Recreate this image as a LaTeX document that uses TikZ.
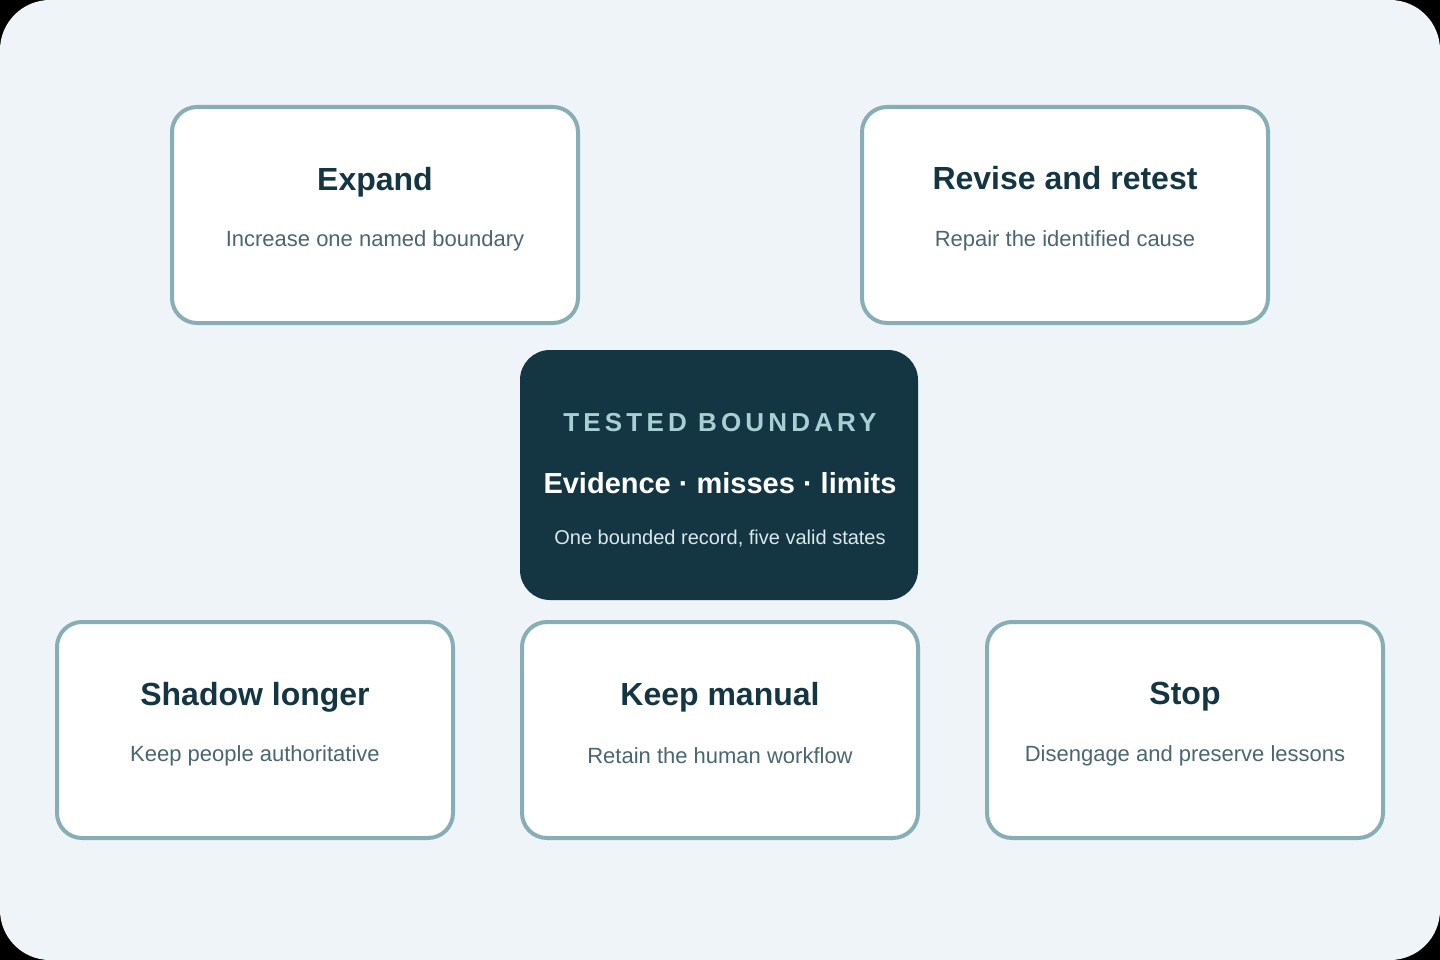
\documentclass[tikz,border=0pt]{standalone}
\usepackage{fontspec}
\setmainfont{Liberation Sans}
\usetikzlibrary{backgrounds}
\definecolor{bg}{HTML}{EEF4F7}
\definecolor{dark}{HTML}{143642}
\definecolor{edge}{HTML}{88AEB5}
\definecolor{sub}{HTML}{4A6670}
\definecolor{kick}{HTML}{A8D0D4}
\definecolor{csub}{HTML}{D8E8EC}
\begin{document}
\begin{tikzpicture}[x=1pt,y=-1pt,
  box/.style={draw=edge,line width=4pt,fill=white,rounded corners=25pt,minimum width=406pt,minimum height=216pt},
  ttl/.style={font=\bfseries\fontsize{32}{36}\selectfont,text=dark},
  st/.style={font=\fontsize{22}{26}\selectfont,text=sub},
  link/.style={draw=edge,line width=7pt}]
\fill[black] (0,0) rectangle (1440,960);
\fill[bg,rounded corners=50pt] (0,0) rectangle (1440,960);
\useasboundingbox (0,0) rectangle (1440,960);
\node[box] (e) at (375,215) {};
\node[box] (r) at (1065,215) {};
\node[box,minimum width=396pt] (s) at (255,730) {};
\node[box,minimum width=396pt] (k) at (720,730) {};
\node[box,minimum width=396pt] (p) at (1185,730) {};
\node[fill=dark,rounded corners=30pt,minimum width=398pt,minimum height=250pt] (c) at (719,475) {};
\begin{scope}[on background layer]
\draw[link] (c) -- (e); \draw[link] (c) -- (r);
\draw[link] (c.south west) ++(0,-24) coordinate (c1);
\draw[link] (c1) -- (s); \draw[link] (c) -- (k);
\coordinate (c2) at (918,577); \draw[link] (c2) -- (p);
\end{scope}
\node[ttl] (et) at (375,182) {Expand};
\node[st] (es) at (375,241) {Increase one named boundary};
\node[ttl] (rt) at (1065,178) {Revise and retest};
\node[st] (rs) at (1065,241) {Repair the identified cause};
\node[ttl] (stt) at (255,697) {Shadow longer};
\node[st] (sts) at (255,756) {Keep people authoritative};
\node[ttl] (kt) at (720,697) {Keep manual};
\node[st] (ks) at (720,756) {Retain the human workflow};
\node[ttl] (pt) at (1185,697) {Stop};
\node[st] (ps) at (1185,756) {Disengage and preserve lessons};
\node[text=kick,font=\bfseries\fontsize{26}{30}\selectfont\addfontfeature{LetterSpace=16}] (ck) at (720,423) {TESTED BOUNDARY};
\node[text=white,font=\bfseries\fontsize{29}{33}\selectfont] (ct) at (720,483) {Evidence · misses · limits};
\node[text=csub,font=\fontsize{20}{24}\selectfont] (cs) at (720,539) {One bounded record, five valid states};
\end{tikzpicture}
\end{document}
